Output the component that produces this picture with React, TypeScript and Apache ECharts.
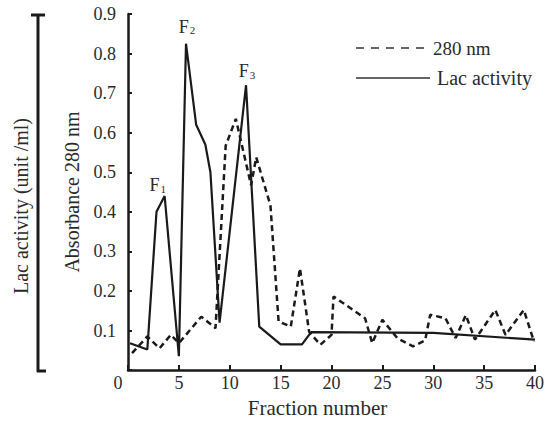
import React, { useEffect, useRef } from 'react';
import * as echarts from 'echarts';

// Absorbance at 280 nm (dashed)
const absFraction = [0.4, 1.9, 3.1, 4.2, 5.0, 7.2, 8.6, 9.6, 10.6, 12.1, 12.6, 14.0, 14.8, 16.0, 16.9, 17.8, 18.9, 20.0, 20.2, 23.3, 24.0, 25.0, 26.5, 28.0, 29.2, 29.7, 31.2, 32.2, 33.2, 34.1, 36.1, 37.1, 38.9, 39.9];
const absValue = [0.043, 0.085, 0.055, 0.089, 0.068, 0.135, 0.106, 0.567, 0.635, 0.467, 0.538, 0.416, 0.123, 0.11, 0.257, 0.097, 0.064, 0.089, 0.186, 0.131, 0.068, 0.127, 0.08, 0.06, 0.075, 0.14, 0.131, 0.081, 0.139, 0.077, 0.152, 0.089, 0.152, 0.072];

// Lac activity (solid)
const lacFraction = [0.2, 1.9, 2.8, 3.6, 5.0, 5.7, 6.7, 7.6, 8.1, 9.0, 11.6, 12.9, 15.0, 17.1, 18.0, 30.0, 40.0];
const lacValue = [0.068, 0.052, 0.4, 0.44, 0.035, 0.825, 0.62, 0.57, 0.5, 0.12, 0.72, 0.11, 0.065, 0.065, 0.096, 0.094, 0.077];

const peakIndex = ['1', '2', '3'];
const peakFraction = [3.6, 5.7, 11.6];
const peakValue = [0.44, 0.825, 0.72];

const xTicks = [0, 5, 10, 15, 20, 25, 30, 35, 40];
const yTicks = [0, 0.1, 0.2, 0.3, 0.4, 0.5, 0.6, 0.7, 0.8, 0.9];

const seriesNames = ['280 nm', 'Lac activity'];
const xTitle = 'Fraction number';
const yTitle = 'Absorbance 280 nm';
const y2Title = 'Lac activity (unit /ml)';

export default function App() {
  const ref = useRef<HTMLDivElement>(null);
  useEffect(() => {
    document.body.style.margin = '0';
    const chart = echarts.init(ref.current!, null, { renderer: 'svg' });
    const serif = '"Liberation Serif", "DejaVu Serif", serif';
    const ink = '#1a1a1a';
    const text = '#2a2a2a';
    const peakOffsets = [[-7, -11], [1, -17], [1, -14]];
    chart.setOption({
      animation: false,
      backgroundColor: '#ffffff',
      textStyle: { fontFamily: serif },
      grid: { left: 128, right: 14, top: 14, bottom: 51 },
      xAxis: {
        type: 'value',
        min: xTicks[0],
        max: xTicks[xTicks.length - 1],
        interval: 5,
        name: xTitle,
        nameLocation: 'middle',
        nameGap: 25,
        nameTextStyle: { fontSize: 21, color: text, fontFamily: serif, padding: [0, 28, 0, 0] },
        axisLine: { lineStyle: { color: ink, width: 2.5 } },
        axisTick: { inside: true, length: 5, lineStyle: { color: ink, width: 2 } },
        axisLabel: {
          margin: 4,
          fontSize: 18,
          color: text,
          fontFamily: serif,
          formatter: (v: number) => (v === 0 ? '{o|0}' : String(v)),
          rich: { o: { fontSize: 18, color: text, fontFamily: serif, padding: [0, 20, 0, 0] } },
        },
        splitLine: { show: false },
      },
      yAxis: {
        type: 'value',
        min: yTicks[0],
        max: yTicks[yTicks.length - 1],
        interval: 0.1,
        name: yTitle,
        nameLocation: 'middle',
        nameRotate: 90,
        nameGap: 46,
        nameTextStyle: { fontSize: 20, color: text, fontFamily: serif },
        axisLine: { show: true, lineStyle: { color: ink, width: 2.5 } },
        axisTick: { show: true, inside: true, length: 4, lineStyle: { color: ink, width: 2 } },
        axisLabel: {
          margin: 12,
          fontSize: 18,
          color: text,
          fontFamily: serif,
          formatter: (v: number) => (v === 0 ? '' : v.toFixed(1)),
        },
        splitLine: { show: false },
      },
      series: [
        {
          name: seriesNames[0],
          type: 'line',
          symbol: 'none',
          data: absFraction.map((f, i) => [f, absValue[i]]),
          lineStyle: { color: ink, width: 2.5, type: [6, 4] },
          itemStyle: { color: ink },
        },
        {
          name: seriesNames[1],
          type: 'line',
          symbol: 'none',
          data: lacFraction.map((f, i) => [f, lacValue[i]]),
          lineStyle: { color: ink, width: 2.2 },
          itemStyle: { color: ink },
          markPoint: {
            symbol: 'circle',
            symbolSize: 0,
            silent: true,
            data: peakIndex.map((n, i) => ({
              coord: [peakFraction[i], peakValue[i]],
              value: n,
              label: { offset: peakOffsets[i] },
            })),
            label: {
              show: true,
              position: 'inside',
              formatter: (p: any) => '{f|F}{s|' + p.value + '}',
              rich: {
                f: { fontSize: 18, color: text, fontFamily: serif },
                s: { fontSize: 11, color: text, fontFamily: serif, verticalAlign: 'bottom', padding: [0, 0, 0, 1] },
              },
            },
          },
        },
      ],
      graphic: [
        // legend
        { type: 'line', shape: { x1: 356, y1: 48, x2: 428, y2: 48 }, style: { stroke: '#333', lineWidth: 1.6, lineDash: [8, 7] } },
        { type: 'text', x: 433, y: 48, style: { text: seriesNames[0], fontSize: 19, fontFamily: serif, fill: text, verticalAlign: 'middle' } },
        { type: 'line', shape: { x1: 356, y1: 78, x2: 430, y2: 78 }, style: { stroke: '#333', lineWidth: 1.6 } },
        { type: 'text', x: 437, y: 78, style: { text: seriesNames[1], fontSize: 20, fontFamily: serif, fill: text, verticalAlign: 'middle' } },
        // left bracket for Lac activity
        { type: 'line', shape: { x1: 38, y1: 15, x2: 38, y2: 372 }, style: { stroke: ink, lineWidth: 3 } },
        { type: 'line', shape: { x1: 31, y1: 15, x2: 45, y2: 15 }, style: { stroke: ink, lineWidth: 3 } },
        { type: 'line', shape: { x1: 37, y1: 371, x2: 46, y2: 371 }, style: { stroke: ink, lineWidth: 3 } },
        {
          type: 'text',
          x: 21,
          y: 206,
          rotation: Math.PI / 2,
          style: {
            text: y2Title,
            fontSize: 20,
            fontFamily: serif,
            fill: text,
            align: 'center',
            verticalAlign: 'middle',
          },
        },
      ],
    });
    return () => chart.dispose();
  }, []);
  return <div ref={ref} style={{ width: 549, height: 423 }} />;
}
